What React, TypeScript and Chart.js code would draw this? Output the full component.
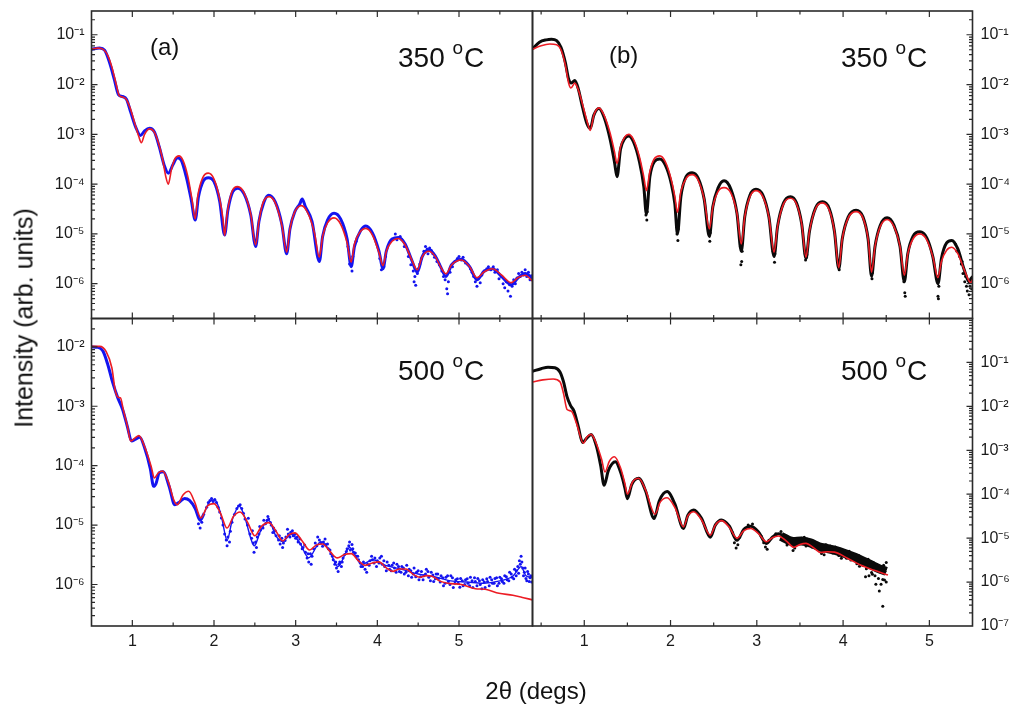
import React, { useEffect, useRef } from "react";
import { Chart, registerables } from "chart.js";

Chart.register(...registerables);

type Pt = [number, number];

// ---------- tick labels ----------
const xTickValues = [1, 2, 3, 4, 5];
const xMinorTicks = [0.5, 1.5, 2.5, 3.5, 4.5, 5.5];
const yExpTop = [-6, -5, -4, -3, -2, -1];
const yExpBottomLeft = [-6, -5, -4, -3, -2];
const yExpBottomRight = [-7, -6, -5, -4, -3, -2, -1];

// ---------- (a) 350 °C ----------
const fitA350: Pt[] = [
  [0.5, 5.1e-2], [0.58, 5.4e-2], [0.65, 5.0e-2], [0.7, 3.8e-2], [0.75, 2.24e-2], [0.8, 1.05e-2], [0.84, 6.0e-3],
  [0.88, 5.6e-3], [0.92, 5.2e-3], [0.97, 3.5e-3], [1.03, 1.66e-3], [1.08, 8.9e-4], [1.11, 6.8e-4], [1.15, 1.0e-3],
  [1.21, 1.29e-3], [1.26, 1.17e-3], [1.31, 7.6e-4], [1.37, 3.2e-4], [1.41, 1.41e-4], [1.44, 1.0e-4], [1.48, 2.0e-4],
  [1.52, 3.2e-4], [1.57, 3.7e-4], [1.62, 3.0e-4], [1.68, 1.41e-4], [1.73, 5.0e-5], [1.77, 2.0e-5], [1.8, 5.6e-5],
  [1.86, 1.32e-4], [1.93, 1.66e-4], [2.0, 1.26e-4], [2.07, 5.0e-5], [2.11, 2.0e-5], [2.13, 9.3e-6], [2.16, 2.5e-5],
  [2.22, 7.1e-5], [2.29, 8.9e-5], [2.37, 6.6e-5], [2.45, 2.5e-5], [2.51, 6.0e-6], [2.55, 1.78e-5], [2.6, 4.2e-5],
  [2.675, 5.6e-5], [2.75, 4.2e-5], [2.83, 1.51e-5], [2.89, 4.3e-6], [2.93, 1.26e-5], [2.99, 2.8e-5], [3.07, 3.7e-5],
  [3.15, 2.6e-5], [3.23, 1.05e-5], [3.29, 3.4e-6], [3.33, 8.9e-6], [3.39, 1.66e-5], [3.47, 2.1e-5], [3.55, 1.58e-5],
  [3.63, 6.6e-6], [3.68, 2.7e-6], [3.72, 6.3e-6], [3.78, 1.05e-5], [3.86, 1.29e-5], [3.94, 9.5e-6], [4.02, 4.2e-6],
  [4.07, 2.3e-6], [4.11, 4.5e-6], [4.18, 7.1e-6], [4.26, 8.1e-6], [4.34, 6.0e-6], [4.43, 2.8e-6], [4.49, 1.9e-6],
  [4.55, 3.5e-6], [4.63, 4.5e-6], [4.71, 3.5e-6], [4.78, 2.1e-6], [4.84, 1.58e-6], [4.91, 2.4e-6], [5.03, 3.0e-6],
  [5.13, 2.2e-6], [5.22, 1.32e-6], [5.31, 1.74e-6], [5.41, 2.0e-6], [5.52, 1.5e-6], [5.64, 1.05e-6], [5.72, 1.32e-6],
  [5.81, 1.48e-6], [5.9, 1.12e-6],
];
const dataA350Line: Pt[] = [
  [0.5, 5.1e-2], [0.6, 5.4e-2], [0.66, 4.9e-2], [0.72, 2.8e-2], [0.78, 1.26e-2], [0.83, 6.3e-3], [0.88, 5.75e-3],
  [0.93, 5.0e-3], [0.98, 2.8e-3], [1.04, 1.41e-3], [1.1, 9.5e-4], [1.15, 1.17e-3], [1.21, 1.32e-3], [1.27, 1.12e-3],
  [1.33, 5.6e-4], [1.39, 2.4e-4], [1.44, 1.66e-4], [1.5, 2.5e-4], [1.55, 3.4e-4], [1.6, 3.0e-4], [1.66, 1.41e-4],
  [1.72, 5.0e-5], [1.77, 1.9e-5], [1.81, 5.6e-5], [1.87, 1.17e-4], [1.93, 1.35e-4], [2.0, 1.12e-4], [2.07, 4.5e-5],
  [2.13, 9.5e-6], [2.17, 3.0e-5], [2.23, 7.1e-5], [2.29, 8.3e-5], [2.37, 6.3e-5], [2.45, 2.4e-5], [2.51, 5.6e-6],
  [2.55, 1.78e-5], [2.61, 4.3e-5], [2.67, 6.0e-5], [2.75, 4.4e-5], [2.83, 1.58e-5], [2.89, 4.0e-6], [2.93, 1.26e-5],
  [2.99, 2.8e-5], [3.05, 4.0e-5], [3.08, 5.0e-5], [3.12, 3.5e-5], [3.2, 1.78e-5], [3.29, 2.8e-6], [3.33, 8.9e-6],
  [3.39, 1.9e-5], [3.47, 2.6e-5], [3.55, 2.0e-5], [3.63, 7.9e-6], [3.68, 2.2e-6], [3.72, 5.6e-6], [3.8, 1.2e-5],
  [3.86, 1.45e-5], [3.94, 1.05e-5], [4.02, 4.5e-6], [4.07, 2.0e-6], [4.11, 4.5e-6], [4.18, 7.9e-6], [4.26, 8.5e-6],
  [4.34, 6.3e-6], [4.42, 3.0e-6], [4.49, 1.7e-6], [4.55, 3.5e-6], [4.63, 4.8e-6], [4.71, 3.6e-6], [4.78, 2.1e-6],
  [4.84, 1.4e-6], [4.91, 2.4e-6], [5.03, 3.1e-6], [5.13, 2.2e-6], [5.22, 1.2e-6], [5.31, 1.8e-6], [5.41, 2.0e-6],
  [5.52, 1.4e-6], [5.64, 9.5e-7], [5.72, 1.3e-6], [5.81, 1.6e-6], [5.9, 1.3e-6],
];
const dataA350Dots: Pt[] = [
  [3.64, 5.6e-6], [3.66, 2.5e-6], [3.69, 1.8e-6], [3.7, 3.5e-6], [3.74, 7.1e-6], [4.03, 3.2e-6], [4.05, 1.9e-6],
  [4.08, 2.2e-6], [4.1, 3.5e-6], [4.22, 1.0e-5], [4.24, 7.6e-6], [4.28, 8.9e-6], [4.3, 7.6e-6], [4.33, 5.6e-6],
  [4.38, 3.5e-6], [4.41, 2.4e-6], [4.44, 1.8e-6], [4.45, 1.1e-6], [4.46, 1.4e-6], [4.47, 9.3e-7], [4.49, 1.6e-6],
  [4.5, 2.0e-6], [4.52, 2.5e-6], [4.54, 3.2e-6], [4.57, 4.5e-6], [4.59, 5.6e-6], [4.61, 5.0e-6], [4.62, 4.0e-6],
  [4.64, 5.2e-6], [4.66, 4.7e-6], [4.68, 4.0e-6], [4.7, 3.4e-6], [4.73, 2.8e-6], [4.76, 2.4e-6], [4.79, 1.8e-6],
  [4.81, 1.4e-6], [4.83, 1.2e-6], [4.85, 7.9e-7], [4.86, 6.3e-7], [4.87, 1.1e-6], [4.89, 1.7e-6], [4.92, 2.2e-6],
  [4.95, 2.8e-6], [4.98, 3.2e-6], [5.0, 3.5e-6], [5.03, 3.0e-6], [5.05, 3.4e-6], [5.08, 2.6e-6], [5.11, 2.4e-6],
  [5.14, 2.0e-6], [5.16, 1.7e-6], [5.18, 1.4e-6], [5.2, 1.1e-6], [5.22, 8.9e-7], [5.24, 1.3e-6], [5.26, 1.05e-6],
  [5.28, 1.5e-6], [5.31, 1.8e-6], [5.34, 2.0e-6], [5.36, 2.2e-6], [5.39, 1.9e-6], [5.42, 2.2e-6], [5.44, 1.7e-6],
  [5.47, 1.9e-6], [5.49, 1.26e-6], [5.52, 1.4e-6], [5.54, 1.0e-6], [5.56, 8.3e-7], [5.58, 1.1e-6], [5.6, 7.1e-7],
  [5.62, 9.5e-7], [5.63, 5.6e-7], [5.65, 8.9e-7], [5.67, 1.2e-6], [5.69, 1.0e-6], [5.71, 1.3e-6], [5.73, 1.6e-6],
  [5.75, 1.4e-6], [5.77, 1.7e-6], [5.79, 1.5e-6], [5.81, 1.9e-6], [5.83, 1.4e-6], [5.85, 1.7e-6], [5.87, 1.2e-6],
  [5.89, 1.45e-6],
];

// ---------- (b) 350 °C ----------
const fitB350: Pt[] = [
  [0.4, 5.1e-2], [0.5, 6.0e-2], [0.6, 6.5e-2], [0.68, 6.3e-2], [0.73, 5.0e-2], [0.78, 2.5e-2], [0.82, 1.05e-2],
  [0.845, 8.5e-3], [0.89, 1.07e-2], [0.93, 7.9e-3], [0.98, 4.0e-3], [1.03, 1.9e-3], [1.07, 1.2e-3], [1.11, 2.4e-3],
  [1.17, 3.4e-3], [1.23, 2.4e-3], [1.3, 1.05e-3], [1.35, 4.5e-4], [1.38, 2.6e-4], [1.42, 5.6e-4], [1.47, 8.9e-4],
  [1.515, 1.0e-3], [1.57, 7.9e-4], [1.64, 3.5e-4], [1.69, 1.4e-4], [1.72, 7.4e-5], [1.76, 1.78e-4], [1.81, 3.2e-4],
  [1.875, 3.7e-4], [1.94, 2.8e-4], [2.01, 1.2e-4], [2.05, 5.6e-5], [2.08, 2.7e-5], [2.12, 7.1e-5], [2.18, 1.3e-4],
  [2.25, 1.55e-4], [2.32, 1.2e-4], [2.39, 5.0e-5], [2.45, 1.26e-5], [2.49, 3.5e-5], [2.55, 7.1e-5], [2.62, 8.5e-5],
  [2.7, 6.6e-5], [2.77, 2.6e-5], [2.82, 6.3e-6], [2.86, 2.2e-5], [2.92, 5.6e-5], [2.99, 7.4e-5], [3.07, 5.6e-5],
  [3.14, 2.2e-5], [3.2, 4.3e-6], [3.24, 1.4e-5], [3.31, 4.0e-5], [3.39, 5.2e-5], [3.46, 4.0e-5], [3.52, 1.6e-5],
  [3.57, 3.4e-6], [3.61, 1.12e-5], [3.68, 3.2e-5], [3.76, 4.2e-5], [3.84, 3.0e-5], [3.9, 1.12e-5], [3.95, 2.1e-6],
  [3.99, 7.9e-6], [4.06, 2.1e-5], [4.15, 2.8e-5], [4.23, 2.1e-5], [4.29, 7.9e-6], [4.33, 1.7e-6], [4.37, 5.6e-6],
  [4.43, 1.4e-5], [4.51, 1.95e-5], [4.59, 1.4e-5], [4.66, 5.6e-6], [4.71, 1.48e-6], [4.75, 4.0e-6], [4.81, 7.9e-6],
  [4.89, 1.0e-5], [4.97, 7.6e-6], [5.04, 3.5e-6], [5.1, 1.32e-6], [5.14, 2.8e-6], [5.2, 4.7e-6], [5.26, 5.4e-6],
  [5.33, 4.0e-6], [5.41, 1.8e-6], [5.48, 1.05e-6], [5.5, 1.2e-6],
];
const dataB350Line: Pt[] = [
  [0.4, 5.2e-2], [0.48, 7.1e-2], [0.56, 7.9e-2], [0.62, 8.1e-2], [0.68, 7.6e-2], [0.73, 5.6e-2], [0.78, 2.8e-2],
  [0.82, 1.26e-2], [0.85, 1.07e-2], [0.89, 1.2e-2], [0.93, 8.3e-3], [0.98, 3.5e-3], [1.03, 1.66e-3], [1.07, 1.32e-3],
  [1.11, 2.4e-3], [1.17, 3.3e-3], [1.23, 2.2e-3], [1.3, 7.9e-4], [1.35, 2.8e-4], [1.38, 1.41e-4], [1.42, 5.0e-4],
  [1.47, 8.3e-4], [1.515, 9.3e-4], [1.57, 7.1e-4], [1.64, 2.8e-4], [1.69, 8.9e-5], [1.72, 2.5e-5], [1.76, 1.4e-4],
  [1.81, 2.8e-4], [1.875, 3.2e-4], [1.94, 2.4e-4], [2.01, 1.0e-4], [2.05, 4.0e-5], [2.08, 1.0e-5], [2.12, 5.6e-5],
  [2.18, 1.41e-4], [2.25, 1.7e-4], [2.32, 1.32e-4], [2.39, 5.0e-5], [2.45, 8.9e-6], [2.49, 3.5e-5], [2.55, 8.3e-5],
  [2.62, 1.17e-4], [2.7, 7.9e-5], [2.77, 2.6e-5], [2.82, 4.5e-6], [2.86, 2.2e-5], [2.92, 6.0e-5], [2.99, 7.9e-5],
  [3.07, 6.0e-5], [3.14, 2.2e-5], [3.2, 3.5e-6], [3.24, 1.4e-5], [3.31, 4.2e-5], [3.39, 5.6e-5], [3.46, 4.2e-5],
  [3.52, 1.6e-5], [3.57, 3.2e-6], [3.61, 1.12e-5], [3.68, 3.3e-5], [3.76, 4.4e-5], [3.84, 3.2e-5], [3.9, 1.12e-5],
  [3.95, 2.0e-6], [3.99, 7.9e-6], [4.06, 2.2e-5], [4.15, 3.0e-5], [4.23, 2.2e-5], [4.29, 7.9e-6], [4.33, 1.4e-6],
  [4.37, 5.6e-6], [4.43, 1.48e-5], [4.51, 2.1e-5], [4.59, 1.48e-5], [4.66, 5.6e-6], [4.71, 1.1e-6], [4.75, 4.0e-6],
  [4.81, 8.9e-6], [4.89, 1.1e-5], [4.97, 8.3e-6], [5.04, 3.5e-6], [5.1, 1.0e-6], [5.14, 3.2e-6], [5.2, 6.6e-6],
  [5.26, 7.4e-6], [5.33, 5.0e-6], [5.4, 2.0e-6], [5.46, 1.1e-6], [5.5, 1.4e-6],
];
const dataB350Dots: Pt[] = [
  [1.375, 1.6e-4], [1.385, 2.0e-4], [1.71, 3.5e-5], [1.715, 2.4e-5], [1.725, 1.9e-5], [1.73, 2.8e-5],
  [2.07, 1.4e-5], [2.075, 1.0e-5], [2.085, 7.4e-6], [2.09, 1.26e-5], [2.44, 1.12e-5], [2.455, 7.1e-6],
  [2.46, 1.05e-5], [2.81, 5.6e-6], [2.815, 2.4e-6], [2.825, 2.8e-6], [2.83, 4.5e-6], [3.19, 4.5e-6],
  [3.205, 2.7e-6], [3.21, 4.0e-6], [3.56, 4.0e-6], [3.565, 3.0e-6], [3.575, 3.4e-6], [3.58, 3.8e-6],
  [3.94, 2.8e-6], [3.955, 1.9e-6], [3.96, 2.5e-6], [4.32, 2.0e-6], [4.335, 1.26e-6], [4.34, 1.66e-6],
  [4.7, 1.6e-6], [4.705, 1.1e-6], [4.715, 6.6e-7], [4.72, 5.6e-7], [5.09, 1.4e-6], [5.1, 5.6e-7],
  [5.105, 5.0e-7], [5.11, 8.9e-7], [5.3, 6.3e-6], [5.32, 4.5e-6], [5.35, 3.5e-6], [5.37, 2.5e-6],
  [5.38, 2.8e-6], [5.39, 1.6e-6], [5.41, 1.1e-6], [5.42, 1.4e-6], [5.43, 8.9e-7], [5.44, 7.1e-7],
  [5.46, 6.0e-7], [5.47, 8.9e-7], [5.48, 1.26e-6], [5.49, 7.9e-7],
];

// ---------- (a) 500 °C ----------
const fitA500: Pt[] = [
  [0.5, 1.02e-2], [0.6, 1.02e-2], [0.68, 8.3e-3], [0.75, 4.4e-3], [0.79, 1.86e-3], [0.83, 1.41e-3], [0.855, 1.38e-3],
  [0.89, 8.7e-4], [0.94, 4.6e-4], [0.98, 2.6e-4], [1.03, 2.9e-4], [1.08, 3.2e-4], [1.15, 2.1e-4], [1.23, 9.8e-5],
  [1.27, 6.2e-5], [1.32, 7.6e-5], [1.37, 8.1e-5], [1.44, 5.4e-5], [1.51, 2.6e-5], [1.55, 2.2e-5], [1.62, 3.2e-5],
  [1.69, 3.7e-5], [1.76, 2.5e-5], [1.84, 1.32e-5], [1.92, 2.1e-5], [2.0, 2.3e-5], [2.08, 1.58e-5], [2.16, 8.9e-6],
  [2.24, 1.41e-5], [2.32, 1.66e-5], [2.41, 1.12e-5], [2.5, 6.6e-6], [2.58, 9.5e-6], [2.67, 1.1e-5], [2.76, 7.9e-6],
  [2.84, 5.4e-6], [2.92, 6.9e-6], [2.99, 7.4e-6], [3.08, 5.4e-6], [3.17, 3.8e-6], [3.25, 4.6e-6], [3.33, 4.8e-6],
  [3.42, 3.6e-6], [3.51, 2.8e-6], [3.6, 3.2e-6], [3.68, 3.3e-6], [3.77, 2.5e-6], [3.85, 2.1e-6], [3.94, 2.3e-6],
  [4.02, 2.4e-6], [4.11, 1.9e-6], [4.19, 1.66e-6], [4.27, 1.82e-6], [4.35, 1.82e-6], [4.44, 1.48e-6], [4.52, 1.32e-6],
  [4.6, 1.41e-6], [4.67, 1.38e-6], [4.76, 1.15e-6], [4.86, 1.05e-6], [5.03, 1.0e-6], [5.2, 8.5e-7], [5.32, 8.3e-7],
  [5.49, 7.1e-7], [5.66, 6.6e-7], [5.79, 6.0e-7], [5.9, 5.5e-7],
];
const dataA500Line: Pt[] = [
  [0.5, 1.0e-2], [0.58, 9.8e-3], [0.64, 8.5e-3], [0.7, 5.0e-3], [0.76, 2.5e-3], [0.82, 1.41e-3], [0.88, 8.9e-4],
  [0.94, 4.5e-4], [0.99, 2.6e-4], [1.04, 2.8e-4], [1.09, 3.0e-4], [1.15, 2.0e-4], [1.22, 8.9e-5], [1.26, 4.5e-5],
  [1.29, 5.0e-5], [1.33, 7.6e-5], [1.38, 7.9e-5], [1.45, 4.5e-5], [1.52, 2.2e-5], [1.57, 2.4e-5], [1.64, 2.8e-5],
  [1.7, 2.6e-5], [1.77, 1.9e-5], [1.83, 1.2e-5], [1.88, 1.58e-5],
];
const dataA500Band: Pt[] = [
  [1.88, 1.58e-5], [1.95, 2.5e-5], [2.02, 2.6e-5], [2.09, 1.4e-5], [2.16, 5.5e-6], [2.23, 1.3e-5], [2.31, 2.1e-5],
  [2.38, 1.3e-5], [2.49, 4.5e-6], [2.58, 8.5e-6], [2.67, 1.2e-5], [2.76, 6.5e-6], [2.84, 5.3e-6], [2.95, 7.0e-6],
  [3.05, 5.0e-6], [3.16, 2.8e-6], [3.3, 5.2e-6], [3.4, 4.0e-6], [3.52, 2.0e-6], [3.66, 4.2e-6], [3.8, 2.2e-6],
  [3.95, 2.6e-6], [4.1, 2.1e-6], [4.3, 1.8e-6], [4.5, 1.5e-6], [4.7, 1.35e-6], [4.9, 1.15e-6], [5.1, 1.1e-6],
  [5.3, 1.05e-6], [5.5, 1.15e-6], [5.65, 1.35e-6], [5.76, 2.0e-6], [5.82, 1.4e-6], [5.9, 1.3e-6],
];
const dataA500Dots: Pt[] = [
  [1.81, 1.05e-5], [1.83, 8.9e-6], [1.85, 1.12e-5], [1.91, 2.0e-5], [1.93, 2.4e-5], [1.95, 2.6e-5], [1.97, 2.8e-5],
  [1.99, 2.5e-5], [2.01, 2.7e-5], [2.03, 2.4e-5], [2.05, 2.0e-5], [2.07, 1.66e-5], [2.09, 1.32e-5], [2.11, 1.0e-5],
  [2.13, 7.1e-6], [2.15, 5.6e-6], [2.16, 4.5e-6], [2.17, 6.3e-6], [2.19, 5.2e-6], [2.2, 7.9e-6], [2.22, 1.12e-5],
  [2.25, 1.5e-5], [2.28, 1.9e-5], [2.3, 2.1e-5], [2.32, 2.2e-5], [2.34, 1.9e-5], [2.36, 1.58e-5], [2.38, 1.26e-5],
  [2.41, 1.0e-5], [2.44, 7.1e-6], [2.46, 6.0e-6], [2.48, 5.0e-6], [2.49, 3.5e-6], [2.51, 5.2e-6], [2.53, 6.3e-6],
  [2.55, 7.1e-6], [2.57, 8.3e-6], [2.6, 8.9e-6], [2.63, 1.05e-5], [2.65, 1.2e-5], [2.67, 1.26e-5], [2.7, 1.0e-5],
  [2.73, 8.9e-6], [2.76, 6.6e-6], [2.79, 5.6e-6], [2.81, 4.8e-6], [2.83, 6.0e-6], [2.85, 5.0e-6], [2.88, 6.3e-6],
  [2.91, 7.1e-6], [2.94, 7.6e-6], [2.97, 6.6e-6], [3.0, 6.0e-6], [3.03, 5.2e-6], [3.06, 4.8e-6], [3.09, 4.2e-6],
  [3.12, 3.5e-6], [3.14, 2.8e-6], [3.16, 2.4e-6], [3.18, 3.3e-6], [3.2, 3.0e-6], [3.22, 4.0e-6], [3.26, 4.5e-6],
  [3.29, 5.6e-6], [3.31, 5.0e-6], [3.34, 5.2e-6], [3.37, 4.7e-6], [3.4, 4.0e-6], [3.43, 3.3e-6], [3.46, 2.6e-6],
  [3.48, 2.2e-6], [3.5, 1.9e-6], [3.52, 1.66e-6], [3.54, 2.4e-6], [3.56, 2.0e-6], [3.58, 2.8e-6], [3.6, 3.2e-6],
  [3.63, 4.0e-6], [3.65, 4.5e-6], [3.67, 3.8e-6], [3.69, 4.7e-6], [3.71, 3.5e-6], [3.74, 3.0e-6], [3.77, 2.6e-6],
  [3.8, 2.0e-6], [3.83, 2.4e-6], [3.85, 1.8e-6], [3.88, 2.2e-6], [3.91, 2.5e-6], [3.94, 2.6e-6], [3.97, 2.8e-6],
  [4.0, 2.5e-6], [4.03, 2.8e-6], [4.06, 2.2e-6], [4.09, 2.0e-6], [4.12, 2.4e-6], [4.15, 1.8e-6], [4.18, 2.1e-6],
  [4.21, 1.9e-6], [4.24, 2.2e-6], [4.27, 1.66e-6], [4.3, 2.0e-6], [4.33, 1.5e-6], [4.36, 2.1e-6], [4.39, 1.8e-6],
  [4.42, 1.32e-6], [4.45, 1.9e-6], [4.48, 1.6e-6], [4.51, 1.2e-6], [4.54, 1.66e-6], [4.57, 1.4e-6], [4.6, 1.8e-6],
  [4.63, 1.32e-6], [4.66, 1.6e-6], [4.69, 1.12e-6], [4.72, 1.5e-6], [4.75, 1.26e-6], [4.78, 1.4e-6], [4.81, 9.5e-7],
  [4.84, 1.32e-6], [4.87, 1.12e-6], [4.9, 1.4e-6], [4.93, 8.9e-7], [4.96, 1.2e-6], [4.99, 1.05e-6], [5.02, 1.26e-6],
  [5.05, 9.5e-7], [5.08, 1.2e-6], [5.11, 1.05e-6], [5.14, 1.32e-6], [5.17, 8.9e-7], [5.2, 1.12e-6], [5.23, 1.26e-6],
  [5.26, 1.0e-6], [5.29, 1.2e-6], [5.32, 8.9e-7], [5.35, 1.12e-6], [5.38, 1.32e-6], [5.41, 1.05e-6], [5.44, 1.26e-6],
  [5.47, 9.5e-7], [5.5, 1.32e-6], [5.53, 1.12e-6], [5.56, 1.4e-6], [5.59, 1.2e-6], [5.62, 1.6e-6], [5.65, 1.32e-6],
  [5.68, 1.8e-6], [5.7, 1.4e-6], [5.72, 2.0e-6], [5.74, 2.5e-6], [5.76, 3.0e-6], [5.78, 1.9e-6], [5.8, 1.6e-6],
  [5.82, 1.26e-6], [5.84, 1.66e-6], [5.86, 1.12e-6], [5.88, 1.4e-6],
  [2.42, 1.3e-5], [2.47, 8.0e-6], [2.52, 4.2e-6], [2.56, 9.5e-6], [2.61, 1.2e-5], [2.66, 1.4e-5], [2.69, 1.1e-5],
  [2.72, 7.5e-6], [2.75, 8.0e-6], [2.8, 6.6e-6], [2.84, 4.2e-6], [2.87, 5.5e-6], [2.9, 8.5e-6], [2.93, 6.3e-6],
  [2.96, 8.0e-6], [2.99, 7.0e-6], [3.02, 6.3e-6], [3.05, 5.8e-6], [3.08, 4.0e-6], [3.11, 4.6e-6], [3.15, 3.3e-6],
  [3.19, 2.2e-6], [3.24, 5.0e-6], [3.27, 6.3e-6], [3.33, 4.4e-6], [3.36, 5.8e-6], [3.39, 4.8e-6], [3.42, 3.8e-6],
  [3.45, 3.0e-6], [3.49, 2.4e-6], [3.53, 2.2e-6], [3.57, 2.4e-6], [3.62, 3.6e-6], [3.66, 5.2e-6], [3.7, 4.0e-6],
  [3.73, 3.4e-6], [3.76, 3.0e-6], [3.79, 2.3e-6], [3.82, 2.0e-6], [3.87, 1.6e-6], [3.9, 2.1e-6], [3.93, 3.0e-6],
  [3.96, 2.3e-6], [3.99, 2.0e-6], [4.02, 2.3e-6], [4.05, 3.0e-6], [4.08, 2.5e-6], [4.11, 1.7e-6], [4.14, 2.1e-6],
  [4.17, 1.7e-6], [4.2, 2.3e-6], [4.23, 1.6e-6], [4.26, 2.0e-6], [4.29, 1.6e-6], [4.32, 1.9e-6], [4.35, 1.6e-6],
  [4.38, 1.4e-6], [4.41, 1.7e-6], [4.44, 1.5e-6], [4.47, 1.35e-6], [4.5, 1.7e-6], [4.53, 1.35e-6], [4.56, 1.2e-6],
  [4.59, 1.5e-6], [4.62, 1.65e-6], [4.65, 1.15e-6], [4.68, 1.45e-6], [4.71, 1.25e-6], [4.74, 1.5e-6], [4.77, 1.1e-6],
  [4.8, 1.3e-6], [4.83, 1.05e-6], [4.86, 1.4e-6], [4.89, 1.0e-6], [4.92, 1.3e-6], [4.95, 1.05e-6], [4.98, 1.25e-6],
  [5.01, 9.0e-7], [5.04, 1.15e-6], [5.07, 1.0e-6], [5.1, 1.25e-6], [5.13, 9.5e-7], [5.16, 1.15e-6], [5.19, 1.3e-6],
  [5.22, 9.5e-7], [5.25, 1.15e-6], [5.28, 8.5e-7], [5.31, 1.1e-6], [5.34, 1.25e-6], [5.37, 9.5e-7], [5.4, 1.2e-6],
  [5.43, 1.05e-6], [5.46, 1.3e-6], [5.49, 1.05e-6], [5.52, 1.25e-6], [5.55, 1.05e-6], [5.58, 1.35e-6], [5.61, 1.15e-6],
  [5.64, 1.5e-6], [5.67, 1.25e-6], [5.7, 1.7e-6], [5.73, 1.55e-6], [5.75, 2.2e-6], [5.77, 2.4e-6], [5.79, 1.4e-6],
  [5.81, 1.9e-6], [5.83, 1.15e-6], [5.85, 1.5e-6], [5.87, 1.3e-6], [5.89, 1.1e-6],
];

// ---------- (b) 500 °C ----------
const fitB500: Pt[] = [
  [0.4, 3.6e-2], [0.52, 4.0e-2], [0.64, 4.2e-2], [0.72, 3.6e-2], [0.76, 1.95e-2], [0.8, 8.5e-3], [0.85, 7.8e-3],
  [0.91, 4.1e-3], [0.99, 1.45e-3], [1.03, 2.0e-3], [1.08, 2.3e-3], [1.14, 1.41e-3], [1.2, 6.3e-4], [1.24, 3.2e-4],
  [1.29, 5.6e-4], [1.35, 7.1e-4], [1.42, 4.0e-4], [1.47, 1.78e-4], [1.5, 1.0e-4], [1.56, 1.9e-4], [1.63, 2.3e-4],
  [1.71, 1.26e-4], [1.82, 3.5e-5], [1.88, 6.6e-5], [1.96, 8.3e-5], [2.05, 5.0e-5], [2.15, 1.8e-5], [2.2, 3.2e-5],
  [2.27, 4.0e-5], [2.36, 2.6e-5], [2.46, 1.17e-5], [2.52, 2.0e-5], [2.59, 2.5e-5], [2.68, 1.78e-5], [2.77, 1.0e-5],
  [2.85, 1.48e-5], [2.93, 1.66e-5], [3.02, 1.26e-5], [3.11, 8.3e-6], [3.18, 1.02e-5], [3.25, 1.12e-5], [3.34, 8.7e-6],
  [3.43, 6.2e-6], [3.5, 7.2e-6], [3.57, 7.6e-6], [3.66, 6.0e-6], [3.74, 4.7e-6], [3.82, 4.9e-6], [3.9, 4.8e-6],
  [4.05, 3.5e-6], [4.2, 2.45e-6], [4.36, 1.86e-6], [4.52, 1.45e-6],
];
const dataB500Line: Pt[] = [
  [0.4, 6.3e-2], [0.5, 7.2e-2], [0.58, 7.8e-2], [0.66, 7.6e-2], [0.72, 6.0e-2], [0.76, 3.6e-2], [0.8, 1.66e-2],
  [0.84, 1.05e-2], [0.88, 7.9e-3], [0.93, 3.5e-3], [0.98, 1.51e-3], [1.03, 1.9e-3], [1.08, 2.3e-3], [1.14, 1.26e-3],
  [1.19, 4.5e-4], [1.23, 1.6e-4], [1.28, 3.5e-4], [1.36, 5.5e-4], [1.43, 2.8e-4], [1.47, 1.41e-4], [1.5, 7.9e-5],
  [1.55, 1.66e-4], [1.63, 2.3e-4], [1.71, 1.2e-4], [1.81, 2.8e-5], [1.87, 7.1e-5], [1.96, 1.15e-4], [2.05, 6.0e-5],
  [2.15, 1.66e-5], [2.2, 3.3e-5], [2.27, 4.4e-5], [2.36, 2.8e-5], [2.46, 1.05e-5], [2.52, 2.0e-5], [2.59, 2.6e-5],
  [2.68, 1.9e-5], [2.77, 8.9e-6], [2.85, 1.58e-5], [2.93, 1.86e-5], [3.02, 1.38e-5], [3.11, 7.6e-6], [3.18, 1.05e-5],
  [3.25, 1.26e-5], [3.34, 1.0e-5], [3.43, 6.6e-6], [3.5, 8.3e-6], [3.57, 9.1e-6], [3.66, 7.1e-6], [3.74, 5.5e-6],
  [3.82, 5.8e-6], [3.9, 5.5e-6], [3.98, 4.8e-6], [4.05, 4.2e-6], [4.12, 3.6e-6], [4.2, 3.0e-6], [4.28, 2.6e-6],
  [4.36, 2.3e-6], [4.44, 1.9e-6], [4.5, 1.66e-6],
];
const dataB500Band: Pt[] = [
  [3.28, 1.1e-5], [3.4, 8.5e-6], [3.52, 8.6e-6], [3.62, 7.8e-6], [3.72, 6.4e-6], [3.82, 5.8e-6], [3.92, 5.2e-6],
  [4.02, 4.5e-6], [4.12, 3.8e-6], [4.22, 3.1e-6], [4.32, 2.5e-6], [4.42, 2.0e-6], [4.5, 1.75e-6],
];
const dataB500Dots: Pt[] = [
  [2.72, 1.32e-5], [2.74, 7.9e-6], [2.76, 6.0e-6], [2.78, 7.1e-6], [2.8, 1.05e-5], [2.9, 2.0e-5], [2.95, 2.1e-5],
  [3.05, 1.12e-5], [3.08, 7.9e-6], [3.1, 6.3e-6], [3.12, 5.6e-6], [3.14, 8.9e-6], [3.22, 1.26e-5], [3.28, 1.41e-5],
  [3.3, 1.12e-5], [3.36, 8.9e-6], [3.4, 7.1e-6], [3.42, 5.2e-6], [3.44, 6.0e-6], [3.46, 7.9e-6], [3.52, 1.0e-5],
  [3.55, 1.05e-5], [3.58, 9.5e-6], [3.6, 7.9e-6], [3.62, 8.3e-6], [3.64, 6.3e-6], [3.67, 7.6e-6], [3.7, 5.6e-6],
  [3.72, 6.6e-6], [3.75, 4.5e-6], [3.77, 6.3e-6], [3.8, 7.1e-6], [3.83, 5.0e-6], [3.85, 6.6e-6], [3.88, 4.6e-6],
  [3.91, 6.3e-6], [3.93, 5.0e-6], [3.95, 4.0e-6], [3.97, 5.6e-6], [4.0, 4.5e-6], [4.02, 5.2e-6], [4.04, 3.5e-6],
  [4.07, 5.0e-6], [4.09, 3.2e-6], [4.11, 4.5e-6], [4.14, 3.8e-6], [4.16, 2.6e-6], [4.18, 4.0e-6], [4.21, 3.5e-6],
  [4.23, 2.4e-6], [4.25, 3.2e-6], [4.26, 1.32e-6], [4.27, 2.0e-6], [4.29, 3.3e-6], [4.3, 1.4e-6], [4.31, 2.4e-6],
  [4.33, 1.66e-6], [4.35, 2.8e-6], [4.37, 1.4e-6], [4.38, 8.9e-7], [4.39, 2.5e-6], [4.41, 1.2e-6], [4.42, 6.3e-7],
  [4.43, 2.2e-6], [4.44, 8.9e-7], [4.45, 1.8e-6], [4.46, 2.8e-7], [4.47, 2.4e-6], [4.48, 1.12e-6], [4.49, 2.0e-6],
  [4.5, 1.0e-6], [4.5, 2.8e-6], [3.35, 7.0e-6], [3.57, 6.6e-6], [3.78, 4.2e-6], [3.98, 3.5e-6], [4.19, 2.3e-6],
  [4.34, 1.5e-6], [4.46, 1.15e-6],
];

// ---------- styling ----------
const RED = "#ec1c24";
const BLUE = "#1414f0";
const BLACK = "#0a0a0a";
const AXIS = "#2b2b2b";
const FONT = "'Liberation Sans', Arial, Helvetica, sans-serif";
const SUP: Record<string, string> = { "-": "\u207B", "0": "\u2070", "1": "\u00B9", "2": "\u00B2", "3": "\u00B3", "4": "\u2074", "5": "\u2075", "6": "\u2076", "7": "\u2077", "8": "\u2078", "9": "\u2079" };
const powLabel = (e: number) => "10" + String(e).split("").map((c) => SUP[c] || c).join("");

interface PanelCfg {
  cx: number; cy: number; cw: number; ch: number;
  pad: { left: number; right: number; top: number; bottom: number };
  yBox: number; xBox: number;
  xMin: number; xMax: number; yMin: number; yMax: number;
  yExps: number[]; ySide: "left" | "right"; showX: boolean;
  fit: Pt[]; line: Pt[]; band: Pt[]; bandWidth: number; dots: Pt[]; color: string;
  tag?: string; tagPos?: [number, number];
  temp: string; tempPos: [number, number];
}

const panels: PanelCfg[] = [
  { cx: 0, cy: 0, cw: 545, ch: 330, pad: { left: 0, right: 12.5, top: 11, bottom: 0 }, yBox: 91.5, xBox: 11.5,
    xMin: 0.5, xMax: 5.9, yMin: 2e-7, yMax: 0.3, yExps: yExpTop, ySide: "left", showX: false,
    fit: fitA350, line: dataA350Line, band: [], bandWidth: 0, dots: dataA350Dots, color: BLUE, tag: "(a)", tagPos: [150, 55], temp: "350", tempPos: [398, 66.5] },
  { cx: 520, cy: 0, cw: 489, ch: 330, pad: { left: 12.5, right: 0, top: 11, bottom: 0 }, yBox: 36.5, xBox: 11.5,
    xMin: 0.4, xMax: 5.5, yMin: 2e-7, yMax: 0.3, yExps: yExpTop, ySide: "right", showX: false,
    fit: fitB350, line: dataB350Line, band: [], bandWidth: 0, dots: dataB350Dots, color: BLACK, tag: "(b)", tagPos: [609, 63], temp: "350", tempPos: [841, 66.5] },
  { cx: 0, cy: 305, cw: 545, ch: 402, pad: { left: 0, right: 12.5, top: 13.5, bottom: 0 }, yBox: 91.5, xBox: 81,
    xMin: 0.5, xMax: 5.9, yMin: 2e-7, yMax: 0.03, yExps: yExpBottomLeft, ySide: "left", showX: true,
    fit: fitA500, line: dataA500Line, band: dataA500Band, bandWidth: 1.4, dots: dataA500Dots, color: BLUE, temp: "500", tempPos: [398, 380] },
  { cx: 520, cy: 305, cw: 489, ch: 402, pad: { left: 12.5, right: 0, top: 13.5, bottom: 0 }, yBox: 36.5, xBox: 81,
    xMin: 0.4, xMax: 5.5, yMin: 1e-7, yMax: 1, yExps: yExpBottomRight, ySide: "right", showX: true,
    fit: fitB500, line: dataB500Line, band: dataB500Band, bandWidth: 9, dots: dataB500Dots, color: BLACK, temp: "500", tempPos: [841, 380] },
];

const toXY = (pts: Pt[]) => pts.map(([x, y]) => ({ x, y }));

function makeDecor(cfg: PanelCfg) {
  return {
    id: "decor",
    afterDraw(chart: any) {
      const { ctx, chartArea: a } = chart;
      const xs = chart.scales.x;
      const ys = chart.scales.y;
      ctx.save();
      ctx.strokeStyle = AXIS;
      ctx.lineWidth = 1.2;
      ctx.beginPath();
      const xAll = [...xTickValues, ...xMinorTicks];
      for (const v of xAll) {
        const px = xs.getPixelForValue(v);
        if (px <= a.left + 1 || px >= a.right - 1) continue;
        const len = Number.isInteger(v) ? 6 : 3.5;
        ctx.moveTo(px, a.bottom); ctx.lineTo(px, a.bottom - len);
        ctx.moveTo(px, a.top); ctx.lineTo(px, a.top + len);
      }
      const e0 = Math.floor(Math.log10(cfg.yMin));
      const e1 = Math.ceil(Math.log10(cfg.yMax));
      for (let e = e0; e <= e1; e++) {
        for (let m = 1; m <= 9; m++) {
          const v = m * Math.pow(10, e);
          if (v < cfg.yMin || v > cfg.yMax) continue;
          const py = ys.getPixelForValue(v);
          if (py <= a.top + 1 || py >= a.bottom - 1) continue;
          const len = m === 1 ? 6 : 3.5;
          if (cfg.ySide === "left") { ctx.moveTo(a.left, py); ctx.lineTo(a.left + len, py); }
          else { ctx.moveTo(a.right, py); ctx.lineTo(a.right - len, py); }
        }
      }
      ctx.stroke();
      ctx.lineWidth = 1.6;
      ctx.strokeRect(a.left, a.top, a.right - a.left, a.bottom - a.top);

      ctx.fillStyle = "#111";
      ctx.textBaseline = "alphabetic";
      ctx.textAlign = "left";
      if (cfg.tag && cfg.tagPos) {
        ctx.font = `24px ${FONT}`;
        ctx.fillText(cfg.tag, cfg.tagPos[0] - cfg.cx, cfg.tagPos[1] - cfg.cy);
      }
      const tx = cfg.tempPos[0] - cfg.cx;
      const ty = cfg.tempPos[1] - cfg.cy;
      ctx.font = `28px ${FONT}`;
      ctx.fillText(cfg.temp, tx, ty);
      const w1 = ctx.measureText(cfg.temp + " ").width;
      ctx.font = `19px ${FONT}`;
      ctx.fillText("o", tx + w1, ty - 13);
      const w2 = ctx.measureText("o").width;
      ctx.font = `28px ${FONT}`;
      ctx.fillText("C", tx + w1 + w2 + 1, ty);
      ctx.restore();
    },
  };
}

function Panel({ cfg }: { cfg: PanelCfg }) {
  const ref = useRef<HTMLCanvasElement>(null);
  useEffect(() => {
    if (!ref.current) return;
    const zeroPad = (s: any) => { s.paddingTop = 0; s.paddingBottom = 0; s.paddingLeft = 0; s.paddingRight = 0; };
    const chart = new Chart(ref.current, {
      type: "line",
      data: {
        datasets: [
          { data: toXY(cfg.fit), borderColor: RED, borderWidth: 1.6, pointRadius: 0, cubicInterpolationMode: "monotone", order: 0 },
          { data: toXY(cfg.line), borderColor: cfg.color, borderWidth: 3, pointRadius: 0, cubicInterpolationMode: "monotone", order: 1 },
          { data: toXY(cfg.band), borderColor: cfg.color, borderWidth: cfg.bandWidth, pointRadius: 0, tension: 0.3, order: 2 },
          { data: toXY(cfg.dots), showLine: false, pointRadius: 1.5, pointBorderWidth: 0, pointBackgroundColor: cfg.color, borderColor: cfg.color, order: 3 },
        ],
      } as any,
      options: {
        animation: false,
        responsive: false,
        devicePixelRatio: 1,
        events: [],
        layout: { padding: cfg.pad },
        plugins: { legend: { display: false }, tooltip: { enabled: false } },
        scales: {
          x: {
            type: "linear", position: "bottom", min: cfg.xMin, max: cfg.xMax,
            grid: { display: false, drawTicks: false }, border: { display: false },
            ticks: { display: cfg.showX, autoSkip: false, maxRotation: 0, padding: 6, color: "#1a1a1a", font: { family: FONT, size: 16 }, callback: (v: any) => String(v) },
            afterBuildTicks: (s: any) => { s.ticks = xTickValues.map((v) => ({ value: v })); },
            afterFit: (s: any) => { s.height = cfg.xBox; zeroPad(s); },
          },
          y: {
            type: "logarithmic", position: cfg.ySide, min: cfg.yMin, max: cfg.yMax,
            grid: { display: false, drawTicks: false }, border: { display: false },
            ticks: { autoSkip: false, padding: cfg.ySide === "left" ? 7 : 8, color: "#1a1a1a", font: { family: FONT, size: 16 },
              callback: (v: any) => powLabel(Math.round(Math.log10(Number(v)))) },
            afterBuildTicks: (s: any) => { s.ticks = cfg.yExps.map((e) => ({ value: Math.pow(10, e) })); },
            afterFit: (s: any) => { s.width = cfg.yBox; zeroPad(s); },
          },
        },
      } as any,
      plugins: [makeDecor(cfg)],
    });
    return () => chart.destroy();
  }, [cfg]);
  return (
    <canvas ref={ref} width={cfg.cw} height={cfg.ch}
      style={{ position: "absolute", left: cfg.cx, top: cfg.cy, width: cfg.cw, height: cfg.ch }} />
  );
}

export default function App() {
  return (
    <div style={{ position: "absolute", left: 0, top: 0, width: 1009, height: 707, background: "#fff", overflow: "hidden" }}>
      {panels.map((p, i) => <Panel key={i} cfg={p} />)}
      <div style={{ position: "absolute", left: 24, top: 318, width: 0, height: 0 }}>
        <div style={{ position: "absolute", left: 0, top: 0, transformOrigin: "0 0", transform: "rotate(-90deg) translate(-50%, -50%)",
          whiteSpace: "nowrap", fontFamily: FONT, fontSize: 25, color: "#111", lineHeight: 1 }}>
          Intensity (arb. units)
        </div>
      </div>
      <div style={{ position: "absolute", left: 536, top: 691, width: 0, height: 0 }}>
        <div style={{ position: "absolute", left: 0, top: 0, transformOrigin: "0 0", transform: "translate(-50%, -50%)",
          whiteSpace: "nowrap", fontFamily: FONT, fontSize: 24, color: "#111", lineHeight: 1 }}>
          2θ (degs)
        </div>
      </div>
    </div>
  );
}
